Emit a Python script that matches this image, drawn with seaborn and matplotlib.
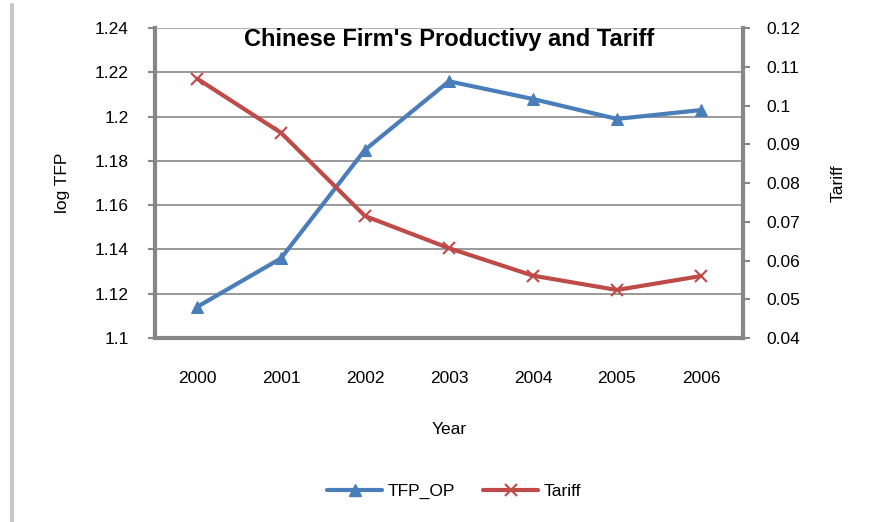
import matplotlib
matplotlib.use("Agg")
import matplotlib.pyplot as plt
import seaborn as sns
import pandas as pd
import numpy as np
from matplotlib.lines import Line2D

years = ["2000", "2001", "2002", "2003", "2004", "2005", "2006"]
tfp_op = [1.114, 1.136, 1.185, 1.216, 1.208, 1.199, 1.203]
tariff = [0.107, 0.093, 0.0715, 0.0632, 0.0561, 0.0524, 0.056]
left_ticks = [1.1, 1.12, 1.14, 1.16, 1.18, 1.2, 1.22, 1.24]
left_labels = ["1.1", "1.12", "1.14", "1.16", "1.18", "1.2", "1.22", "1.24"]
right_ticks = [0.04, 0.05, 0.06, 0.07, 0.08, 0.09, 0.1, 0.11, 0.12]
right_labels = ["0.04", "0.05", "0.06", "0.07", "0.08", "0.09", "0.1", "0.11", "0.12"]

sns.set_style("white")
plt.rcParams['font.family'] = ['Liberation Sans', 'DejaVu Sans']
plt.rcParams['text.color'] = 'black'
plt.rcParams['axes.labelcolor'] = 'black'
plt.rcParams['xtick.color'] = 'black'
plt.rcParams['ytick.color'] = 'black'

blue = "#4A7EBB"
red = "#BE4B48"
gray = "#878787"
fs = 12.5

df = pd.DataFrame({"Year": years, "TFP_OP": tfp_op, "Tariff": tariff})

fig = plt.figure(figsize=(8.73, 5.22), dpi=100)
ax = fig.add_axes([0.1775, 0.3525, 0.6735, 0.5935])
ax2 = ax.twinx()

sns.lineplot(data=df, x="Year", y="TFP_OP", ax=ax, color=blue, marker="^",
             markersize=8, markeredgecolor=blue, linewidth=3, label="TFP_OP", legend=False)
sns.lineplot(data=df, x="Year", y="Tariff", ax=ax2, color=red, marker="x",
             markersize=8, markeredgewidth=1.5, markeredgecolor=red, linewidth=3, label="Tariff", legend=False)

ax.set_xlim(-0.5, 6.5)
ax.set_ylim(1.1, 1.24)
ax2.set_ylim(0.04, 0.12)
ax.set_yticks(left_ticks)
ax.set_yticklabels(left_labels, fontsize=fs)
ax2.set_yticks(right_ticks)
ax2.set_yticklabels(right_labels, fontsize=fs)
ax.set_xticks(range(len(years)))
ax.set_xticklabels(years, fontsize=fs)
ax.set_xticks(np.arange(-0.5, 7, 1), minor=True)
ax.tick_params(axis="x", which="major", length=0, pad=24)
ax.tick_params(axis="x", which="minor", length=5, width=1.5, color=gray, direction="out")
ax.tick_params(axis="y", length=5, width=1.5, color=gray, direction="out", pad=14)
ax2.tick_params(axis="y", length=5, width=1.5, color=gray, direction="out", pad=12)

for y in left_ticks[1:-1]:
    ax.axhline(y, color=gray, linewidth=1.2, zorder=0)
ax.axhline(1.24, color="#b0b0b0", linewidth=1.5, zorder=0)

for a in (ax, ax2):
    for s in a.spines.values():
        s.set_visible(False)
ax.spines["left"].set_visible(True)
ax.spines["left"].set_color(gray)
ax.spines["left"].set_linewidth(3)
ax.spines["bottom"].set_visible(True)
ax.spines["bottom"].set_color(gray)
ax.spines["bottom"].set_linewidth(3)
ax2.spines["right"].set_visible(True)
ax2.spines["right"].set_color(gray)
ax2.spines["right"].set_linewidth(3)

ax.set_ylabel("log TFP", fontsize=fs, labelpad=18)
ax2.set_ylabel("Tariff", fontsize=fs, labelpad=22)
ax.set_xlabel("Year", fontsize=fs, labelpad=26)
ax.set_title("Chinese Firm's Productivy and Tariff", fontsize=17, fontweight="bold", y=0.915)

handles = [Line2D([], [], color=blue, marker="^", linewidth=3, markersize=8),
           Line2D([], [], color=red, marker="x", linewidth=3, markersize=8, markeredgewidth=1.5)]
fig.legend(handles, ["TFP_OP", "Tariff"], loc="center", bbox_to_anchor=(0.52, 0.058),
           ncol=2, frameon=False, fontsize=fs, handlelength=3.2, columnspacing=1.6, handletextpad=0.3)

fig.add_artist(Line2D([0.0137, 0.0137], [0.0, 0.99], transform=fig.transFigure, color="#c8c8c8", linewidth=3))

fig.savefig("out.png", dpi=100)
